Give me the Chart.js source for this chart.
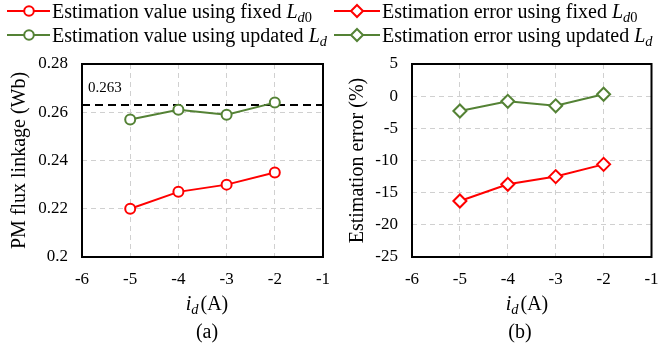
<!DOCTYPE html>
<html><head><meta charset="utf-8">
<script src="https://cdn.jsdelivr.net/npm/chart.js@4/dist/chart.umd.min.js"></script>
<style>
html,body{margin:0;padding:0;background:#fff;}
#wrap{position:relative;width:660px;height:354px;overflow:hidden;font-family:"Liberation Serif","Times New Roman",serif;color:#000;}
canvas{position:absolute;top:0;}
.leg{position:absolute;font-size:20px;line-height:20px;white-space:nowrap;}
.lab{position:absolute;font-size:20px;line-height:20px;white-space:nowrap;transform:translateX(-50%);}
sub{font-size:72%;vertical-align:-0.25em;line-height:0;}
i{font-style:italic;}
svg{position:absolute;}
</style>
</head><body>
<div id="wrap">
<canvas id="c1" width="330" height="354" style="left:0"></canvas>
<canvas id="c2" width="330" height="354" style="left:330px"></canvas>

<svg width="60" height="48" style="left:0;top:0">
 <line x1="7" y1="11" x2="50" y2="11" stroke="#FF0000" stroke-width="2"/>
 <circle cx="29" cy="11" r="4.8" fill="#fff" stroke="#FF0000" stroke-width="2"/>
 <line x1="7" y1="35" x2="50" y2="35" stroke="#548235" stroke-width="2"/>
 <circle cx="29" cy="35" r="4.8" fill="#fff" stroke="#548235" stroke-width="2"/>
</svg>
<svg width="60" height="48" style="left:330px;top:0">
 <line x1="4" y1="11" x2="50" y2="11" stroke="#FF0000" stroke-width="2"/>
 <path d="M27 5 L33 11 L27 17 L21 11 Z" fill="#fff" stroke="#FF0000" stroke-width="2"/>
 <line x1="4" y1="35" x2="50" y2="35" stroke="#548235" stroke-width="2"/>
 <path d="M27 29 L33 35 L27 41 L21 35 Z" fill="#fff" stroke="#548235" stroke-width="2"/>
</svg>
<div class="leg" style="left:52px;top:1px">Estimation value using fixed <i>L</i><sub><i>d</i>0</sub></div>
<div class="leg" style="left:52px;top:25px">Estimation value using updated <i>L</i><sub><i>d</i></sub></div>
<div class="leg" style="left:382px;top:1px">Estimation error using fixed <i>L</i><sub><i>d</i>0</sub></div>
<div class="leg" style="left:382px;top:25px">Estimation error using updated <i>L</i><sub><i>d</i></sub></div>

<div class="lab" style="left:207px;top:293px"><i>i</i><sub><i>d</i></sub><span style="margin-left:2px">(A)</span></div>
<div class="lab" style="left:527px;top:293px"><i>i</i><sub><i>d</i></sub><span style="margin-left:2px">(A)</span></div>
<div class="lab" style="left:207px;top:321px">(a)</div>
<div class="lab" style="left:520px;top:321px">(b)</div>
</div>
<script>
const currents = [-5, -4, -3, -2];
const fluxFixed = [0.220, 0.227, 0.230, 0.235];
const fluxUpdated = [0.257, 0.261, 0.259, 0.264];
const errFixed = [-16.3, -13.7, -12.5, -10.6];
const errUpdated = [-2.3, -0.8, -1.5, 0.3];
const refFlux = 0.263;
const xRange = [-6, -1];
const fluxRange = [0.2, 0.28];
const errRange = [-25, 5];

const RED = '#FF0000', GREEN = '#548235';
const FONT = '"Liberation Serif","Times New Roman",serif';

function pts(xs, ys){ return xs.map((x,i)=>({x:x,y:ys[i]})); }

const boxPlugin = {
  id:'box',
  afterDatasetsDraw(chart){
    const {ctx, chartArea:a} = chart;
    ctx.save();
    ctx.strokeStyle='#000'; ctx.lineWidth=2;
    ctx.strokeRect(a.left, a.top, a.right-a.left, a.bottom-a.top);
    ctx.restore();
  }
};

function makeChart(id, datasets, yr, ystep, ytitle, titlePad, extraPlugins){
  return new Chart(document.getElementById(id), {
    type:'line',
    data:{datasets:datasets},
    options:{
      responsive:false, animation:false, devicePixelRatio:1,
      layout:{padding:{left:0,right:5,top:64,bottom:67}},
      plugins:{legend:{display:false}, tooltip:{enabled:false}},
      scales:{
        x:{type:'linear', min:xRange[0], max:xRange[1],
           ticks:{stepSize:1, color:'#000', padding:12, font:{family:FONT,size:17}},
           grid:{color:'#D0D0D0', drawTicks:false, lineWidth:1},
           border:{display:false, dash:[5,4]},
           afterFit(s){ s.height=30; s.paddingLeft=0; s.paddingRight=0; }
        },
        y:{type:'linear', min:yr[0], max:yr[1],
           ticks:{stepSize:ystep, color:'#000', padding:14, font:{family:FONT,size:17},
                  callback:(v)=>String(+v.toFixed(4))},
           grid:{color:'#D0D0D0', drawTicks:false, lineWidth:1},
           border:{display:false, dash:[5,4]},
           title:{display:true, text:ytitle, color:'#000', font:{family:FONT,size:20}, padding:{top:titlePad,bottom:0}},
           afterFit(s){ s.width=82; s.paddingTop=0; s.paddingBottom=0; }
        }
      }
    },
    plugins:[boxPlugin].concat(extraPlugins||[])
  });
}

const refLabel = {
  id:'refLabel',
  afterDatasetsDraw(chart){
    const ctx=chart.ctx, xs=chart.scales.x, ys=chart.scales.y;
    ctx.save();
    ctx.fillStyle='#000'; ctx.font='15px '+FONT; ctx.textBaseline='middle'; ctx.textAlign='left';
    ctx.fillText(String(refFlux), xs.getPixelForValue(xRange[0])+6, ys.getPixelForValue(refFlux)-17);
    ctx.restore();
  }
};

makeChart('c1', [
  {data:[{x:xRange[0],y:refFlux},{x:xRange[1],y:refFlux}], borderColor:'#000', borderWidth:2, borderDash:[8,5], pointRadius:0, order:3},
  {data:pts(currents, fluxUpdated), borderColor:GREEN, borderWidth:2, pointStyle:'circle', pointRadius:5, pointBorderWidth:2, pointBackgroundColor:'#fff', pointBorderColor:GREEN, order:1},
  {data:pts(currents, fluxFixed), borderColor:RED, borderWidth:2, pointStyle:'circle', pointRadius:5, pointBorderWidth:2, pointBackgroundColor:'#fff', pointBorderColor:RED, order:2}
], fluxRange, 0.02, 'PM flux linkage (Wb)', 8, [refLabel]);

makeChart('c2', [
  {data:pts(currents, errUpdated), borderColor:GREEN, borderWidth:2, pointStyle:'rectRot', pointRadius:6.5, pointBorderWidth:2, pointBackgroundColor:'#fff', pointBorderColor:GREEN},
  {data:pts(currents, errFixed), borderColor:RED, borderWidth:2, pointStyle:'rectRot', pointRadius:6.5, pointBorderWidth:2, pointBackgroundColor:'#fff', pointBorderColor:RED}
], errRange, 5, 'Estimation error (%)', 16);
</script>
</body></html>
